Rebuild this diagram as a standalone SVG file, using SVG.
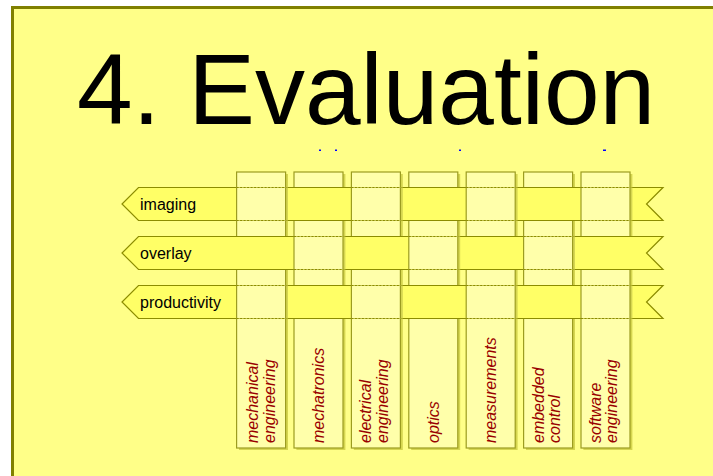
<svg xmlns="http://www.w3.org/2000/svg" width="713" height="476" viewBox="0 0 713 476">
<style>
.band{fill:#ffff66;stroke:#8c8c00;stroke-width:1.2}
.col{fill:#ffffaa;stroke:#9c9c20;stroke-width:1.2}
.shadow{fill:#d6d650}
.seg{fill:#ffffaa;stroke:none}
.edge{stroke:#9c9c20;stroke-width:1.2}
.dash{stroke:#8c8c00;stroke-width:1;stroke-dasharray:2,1.5}
.rl{font-family:"Liberation Sans",Arial,sans-serif;font-size:16px;fill:#000}
.cl{font-family:"Liberation Sans",Arial,sans-serif;font-size:16px;font-style:italic;fill:#990000}
.blue{fill:#0000ff}
</style>
<rect x="0" y="0" width="713" height="476" fill="#ffffff"/>
<rect x="12.5" y="7.5" width="720" height="480" fill="#ffff88" stroke="#808000" stroke-width="3"/>
<text x="77" y="124" font-family="'Liberation Sans',Arial,sans-serif" font-size="100" fill="#000">4. Evaluation</text>
<g id="marks">
<rect class="blue" x="319" y="149.5" width="2" height="1.5"/>
<rect class="blue" x="335" y="149.5" width="2" height="1.5"/>
<rect class="blue" x="459" y="149.5" width="2" height="1.5"/>
<rect class="blue" x="603" y="149.5" width="3" height="1.5"/>
</g>
<g id="columns">
<g id="col-mechanical"><rect class="shadow" x="239" y="174" width="49" height="276"/><rect class="col" x="236.6" y="172" width="49" height="276"/></g>
<g id="col-mechatronics"><rect class="shadow" x="296.4" y="174" width="49" height="276"/><rect class="col" x="294" y="172" width="49" height="276"/></g>
<g id="col-electrical"><rect class="shadow" x="353.8" y="174" width="49" height="276"/><rect class="col" x="351.4" y="172" width="49" height="276"/></g>
<g id="col-optics"><rect class="shadow" x="411.2" y="174" width="49" height="276"/><rect class="col" x="408.8" y="172" width="49" height="276"/></g>
<g id="col-measurements"><rect class="shadow" x="468.6" y="174" width="49" height="276"/><rect class="col" x="466.2" y="172" width="49" height="276"/></g>
<g id="col-embedded"><rect class="shadow" x="526" y="174" width="49" height="276"/><rect class="col" x="523.6" y="172" width="49" height="276"/></g>
<g id="col-software"><rect class="shadow" x="583.4" y="174" width="49" height="276"/><rect class="col" x="581" y="172" width="49" height="276"/></g>
</g>
<g id="bands">
<g id="band-imaging"><polygon class="band" points="138.5,187.5 663,187.5 646.5,204 663,220.5 138.5,220.5 122,204"/><text class="rl" x="140" y="209.5">imaging</text></g>
<g id="band-overlay"><polygon class="band" points="138.5,236.5 663,236.5 646.5,253 663,269.5 138.5,269.5 122,253"/><text class="rl" x="140" y="258.5">overlay</text></g>
<g id="band-productivity"><polygon class="band" points="138.5,285.5 663,285.5 646.5,302 663,318.5 138.5,318.5 122,302"/><text class="rl" x="140" y="307.5">productivity</text></g>
</g>
<defs>
<g id="segA">
<rect class="shadow" x="49" y="0" width="2.4" height="33"/>
<rect class="seg" x="0" y="0" width="49" height="33"/>
<line class="edge" x1="0" y1="0" x2="0" y2="33"/>
<line class="edge" x1="49" y1="0" x2="49" y2="33"/>
<line class="dash" x1="0" y1="0" x2="49" y2="0"/>
<line class="dash" x1="0" y1="33" x2="49" y2="33"/>
</g>
</defs>
<g id="weave">
<use href="#segA" x="236.6" y="187.5"/>
<use href="#segA" x="351.4" y="187.5"/>
<use href="#segA" x="466.2" y="187.5"/>
<use href="#segA" x="581" y="187.5"/>
<use href="#segA" x="294" y="236.5"/>
<use href="#segA" x="408.8" y="236.5"/>
<use href="#segA" x="523.6" y="236.5"/>
<use href="#segA" x="236.6" y="285.5"/>
<use href="#segA" x="351.4" y="285.5"/>
<use href="#segA" x="466.2" y="285.5"/>
<use href="#segA" x="581" y="285.5"/>
</g>
<g id="column-labels">
<text class="cl" transform="translate(257.6,443) rotate(-90)">mechanical</text>
<text class="cl" transform="translate(274.6,443) rotate(-90)">engineering</text>
<text class="cl" transform="translate(324,443) rotate(-90)">mechatronics</text>
<text class="cl" transform="translate(371.4,443) rotate(-90)">electrical</text>
<text class="cl" transform="translate(388.4,443) rotate(-90)">engineering</text>
<text class="cl" transform="translate(438.8,443) rotate(-90)">optics</text>
<text class="cl" transform="translate(495.6,443) rotate(-90)">measurements</text>
<text class="cl" transform="translate(543.6,443) rotate(-90)">embedded</text>
<text class="cl" transform="translate(559.6,443) rotate(-90)">control</text>
<text class="cl" transform="translate(601,443) rotate(-90)">software</text>
<text class="cl" transform="translate(617,443) rotate(-90)">engineering</text>
</g>
</svg>
